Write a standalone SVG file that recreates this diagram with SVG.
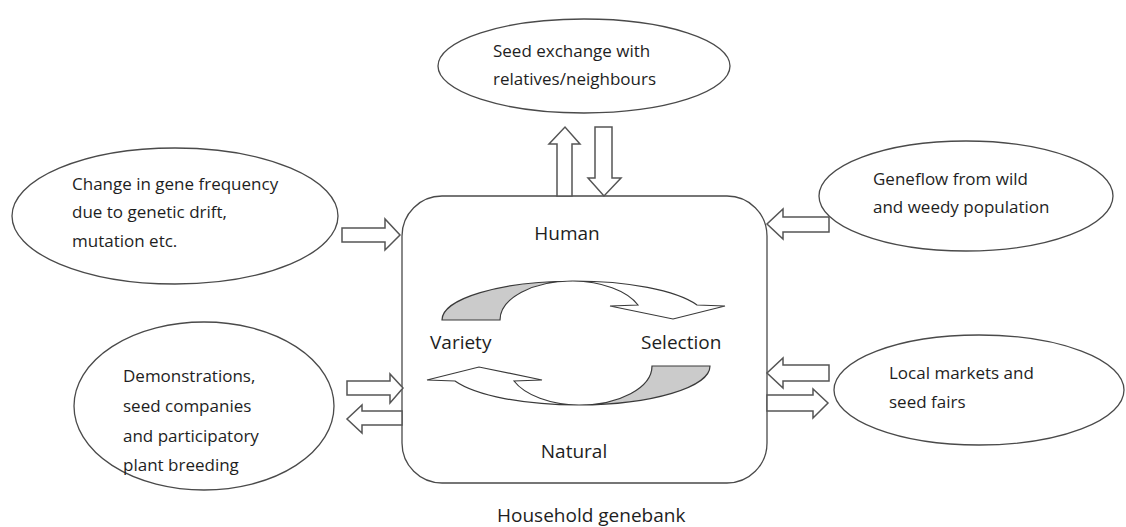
<svg xmlns="http://www.w3.org/2000/svg" width="1126" height="527" viewBox="0 0 1126 527">
  <style>
    .shape { fill: #ffffff; stroke: #4a4a4a; stroke-width: 1.3; }
    .band { fill: #cbcbcb; stroke: #3a3a3a; stroke-width: 1.2; }
    .loop { fill: #ffffff; stroke: #3a3a3a; stroke-width: 1.2; }
    .arrow { fill: #ffffff; stroke: #555555; stroke-width: 1.5; stroke-linejoin: miter; }
    text { font-family: "Open Sans", "Noto Sans", "Liberation Sans", sans-serif; font-size: 17px; fill: #1e1e1e; }
    .big { font-size: 19px; }
  </style>
  <rect width="1126" height="527" fill="#ffffff"/>

  <!-- outer sources of diversity -->
  <g id="seed-exchange">
    <ellipse class="shape" cx="584" cy="66" rx="146" ry="47"/>
    <text x="493" y="57">Seed exchange with</text>
    <text x="493" y="85">relatives/neighbours</text>
  </g>
  <g id="gene-frequency">
    <ellipse class="shape" cx="175" cy="216" rx="163" ry="68"/>
    <text x="72" y="190">Change in gene frequency</text>
    <text x="72" y="218">due to genetic drift,</text>
    <text x="72" y="247">mutation etc.</text>
  </g>
  <g id="geneflow">
    <ellipse class="shape" cx="966" cy="196" rx="147" ry="55"/>
    <text x="873" y="185">Geneflow from wild</text>
    <text x="873" y="213">and weedy population</text>
  </g>
  <g id="demonstrations">
    <ellipse class="shape" cx="204" cy="406" rx="130" ry="84"/>
    <text x="123" y="382">Demonstrations,</text>
    <text x="123" y="412">seed companies</text>
    <text x="123" y="442">and participatory</text>
    <text x="123" y="471">plant breeding</text>
  </g>
  <g id="local-markets">
    <ellipse class="shape" cx="979" cy="390" rx="145" ry="55"/>
    <text x="889" y="379">Local markets and</text>
    <text x="889" y="408">seed fairs</text>
  </g>

  <!-- household genebank -->
  <g id="genebank">
    <rect class="shape" x="402" y="196" width="365" height="287" rx="40" ry="40"/>
    <text class="big" x="567" y="240" text-anchor="middle">Human</text>
    <text class="big" x="574" y="458" text-anchor="middle">Natural</text>
    <text class="big" x="430" y="349">Variety</text>
    <text class="big" x="641" y="349">Selection</text>
    <text class="big" x="497" y="522">Household genebank</text>
  </g>

  <!-- selection cycle -->
  <g id="cycle">
    <g id="cycle-top">
      <path class="band" d="M442,320 A133,39 0 0 1 573,281 A72,39 0 0 0 500,320 Z"/>
      <path class="loop" d="M573,281 A133,39 0 0 1 697,305 L725,306 L673,319 L610,306 L638,305 A72,39 0 0 0 573,281 Z"/>
    </g>
    <g id="cycle-bottom" transform="rotate(180 576 343)">
      <path class="band" d="M442,320 A133,39 0 0 1 573,281 A72,39 0 0 0 500,320 Z"/>
      <path class="loop" d="M573,281 A133,39 0 0 1 697,305 L725,306 L673,319 L610,306 L638,305 A72,39 0 0 0 573,281 Z"/>
    </g>
  </g>

  <!-- block arrows between sources and genebank -->
  <g id="connectors">
    <polygon class="arrow" points="557,196 557,144 549,144 565,127 580,144 572,144 572,196"/>
    <polygon class="arrow" points="595,127 612,127 612,178 621,178 604,196 588,178 595,178"/>
    <polygon class="arrow" points="342,228 385,228 385,219 400,235 385,250 385,242 342,242"/>
    <polygon class="arrow" points="829,217 783,217 783,209 767,224 783,239 783,232 829,232"/>
    <polygon class="arrow" points="347,381 390,381 390,374 403,388 390,403 390,395 347,395"/>
    <polygon class="arrow" points="402,411 362,411 362,405 347,419 362,433 362,425 402,425"/>
    <polygon class="arrow" points="829,365 783,365 783,358 767,373 783,388 783,381 829,381"/>
    <polygon class="arrow" points="767,395 813,395 813,389 828,403 813,418 813,411 767,411"/>
  </g>
</svg>
